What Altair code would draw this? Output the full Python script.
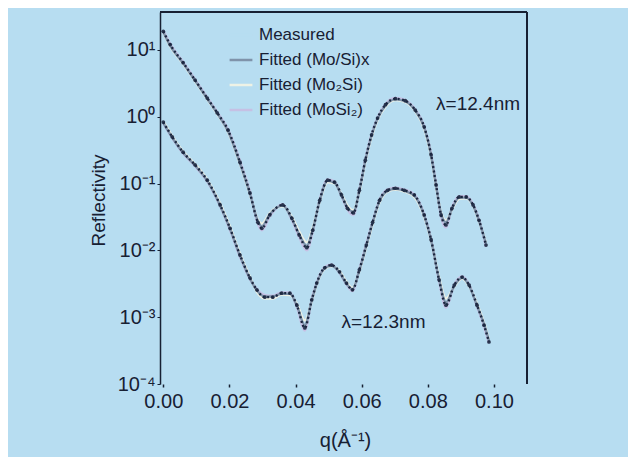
import altair as alt
import pandas as pd

# ---- data (log10 of reflectivity) ----
q_upper = [0.0, 0.0021, 0.0060, 0.0096, 0.0133, 0.0163, 0.0196, 0.0232, 0.0262, 0.0286,
           0.0298, 0.0322, 0.0361, 0.0389, 0.0411, 0.0434, 0.0452, 0.0473, 0.0497, 0.0518,
           0.0539, 0.0557, 0.0575, 0.0593, 0.0611, 0.0630, 0.0648, 0.0672, 0.0702, 0.0732,
           0.0762, 0.0789, 0.0810, 0.0825, 0.0840, 0.0855, 0.0873, 0.0895, 0.0916, 0.0937,
           0.0955, 0.0976]
meas_upper = [1.28, 1.08, 0.81, 0.55, 0.28, 0.06, -0.20, -0.68, -1.14, -1.58,
              -1.67, -1.47, -1.32, -1.52, -1.77, -1.96, -1.70, -1.25, -0.95, -0.98,
              -1.17, -1.37, -1.44, -1.10, -0.65, -0.27, -0.02, 0.18, 0.27, 0.24,
              0.10, -0.15, -0.57, -1.02, -1.47, -1.62, -1.37, -1.20, -1.20, -1.32,
              -1.55, -1.92]
fit_a_upper = [1.27, 1.06, 0.80, 0.54, 0.27, 0.05, -0.22, -0.70, -1.15, -1.56,
               -1.64, -1.46, -1.33, -1.53, -1.76, -1.93, -1.69, -1.26, -0.96, -0.99,
               -1.18, -1.36, -1.42, -1.11, -0.66, -0.28, -0.03, 0.17, 0.26, 0.23,
               0.09, -0.16, -0.58, -1.03, -1.45, -1.58, -1.38, -1.21, -1.21, -1.33,
               -1.56, -1.90]
fit_b_upper = [1.26, 1.05, 0.79, 0.53, 0.26, 0.04, -0.23, -0.71, -1.16, -1.54,
               -1.60, -1.44, -1.34, -1.50, -1.72, -1.88, -1.66, -1.27, -0.98, -1.00,
               -1.16, -1.33, -1.40, -1.12, -0.68, -0.30, -0.05, 0.15, 0.25, 0.22,
               0.08, -0.18, -0.60, -1.05, -1.43, -1.55, -1.39, -1.23, -1.22, -1.34,
               -1.57, -1.88]
fit_c_upper = [1.29, 1.09, 0.82, 0.56, 0.29, 0.07, -0.19, -0.66, -1.12, -1.60,
               -1.70, -1.49, -1.31, -1.55, -1.80, -2.00, -1.72, -1.24, -0.94, -0.97,
               -1.19, -1.39, -1.47, -1.09, -0.64, -0.26, -0.01, 0.19, 0.28, 0.25,
               0.11, -0.14, -0.55, -1.00, -1.50, -1.66, -1.36, -1.19, -1.19, -1.31,
               -1.54, -1.95]

q_lower = [0.0, 0.0027, 0.0060, 0.0096, 0.0133, 0.0172, 0.0202, 0.0232, 0.0262, 0.0283,
           0.0307, 0.0331, 0.0358, 0.0383, 0.0404, 0.0428, 0.0449, 0.0464, 0.0488, 0.0509,
           0.0533, 0.0554, 0.0572, 0.0593, 0.0614, 0.0633, 0.0654, 0.0678, 0.0702, 0.0729,
           0.0759, 0.0789, 0.0810, 0.0834, 0.0855, 0.0880, 0.0904, 0.0925, 0.0949, 0.0970,
           0.0985]
meas_lower = [-0.08, -0.30, -0.53, -0.72, -0.95, -1.32, -1.67, -2.07, -2.41, -2.59,
              -2.70, -2.70, -2.64, -2.64, -2.82, -3.16, -2.74, -2.49, -2.26, -2.22,
              -2.32, -2.49, -2.59, -2.29, -1.92, -1.58, -1.25, -1.10, -1.07, -1.10,
              -1.17, -1.47, -1.84, -2.44, -2.82, -2.52, -2.40, -2.52, -2.82, -3.12,
              -3.37]
fit_a_lower = [-0.09, -0.31, -0.54, -0.73, -0.96, -1.33, -1.68, -2.08, -2.42, -2.60,
               -2.69, -2.69, -2.65, -2.65, -2.83, -3.12, -2.75, -2.50, -2.27, -2.23,
               -2.33, -2.50, -2.58, -2.30, -1.93, -1.59, -1.26, -1.11, -1.08, -1.11,
               -1.18, -1.48, -1.85, -2.43, -2.78, -2.53, -2.41, -2.53, -2.83, -3.10,
               -3.35]
fit_b_lower = [-0.07, -0.29, -0.52, -0.71, -0.94, -1.30, -1.65, -2.05, -2.40, -2.62,
               -2.72, -2.72, -2.66, -2.67, -2.80, -3.05, -2.76, -2.51, -2.28, -2.24,
               -2.31, -2.47, -2.56, -2.31, -1.95, -1.61, -1.28, -1.12, -1.09, -1.12,
               -1.20, -1.50, -1.86, -2.40, -2.72, -2.54, -2.42, -2.54, -2.80, -3.08,
               -3.33]
fit_c_lower = [-0.10, -0.32, -0.55, -0.74, -0.97, -1.34, -1.70, -2.10, -2.43, -2.58,
               -2.67, -2.68, -2.63, -2.63, -2.85, -3.20, -2.73, -2.48, -2.25, -2.21,
               -2.34, -2.51, -2.61, -2.28, -1.90, -1.57, -1.24, -1.09, -1.06, -1.09,
               -1.16, -1.46, -1.83, -2.46, -2.86, -2.51, -2.39, -2.51, -2.84, -3.14,
               -3.39]

series_names = ["Measured", "Fitted (Mo/Si)x", "Fitted (Mo\u2082Si)", "Fitted (MoSi\u2082)"]
series_colors = ["#b7ddf1", "#7f93aa", "#eef2e6", "#c6c0e4"]

y_tick_values = [1e1, 1e0, 1e-1, 1e-2, 1e-3, 1e-4]
y_tick_labels = ["10\u00b9", "10\u2070", "10\u207b\u00b9", "10\u207b\u00b2", "10\u207b\u00b3", "10\u207b\u2074"]
x_tick_values = [0.00, 0.01, 0.02, 0.03, 0.04, 0.05, 0.06, 0.07, 0.08, 0.09, 0.10]

ann_text = ["\u03bb=12.4nm", "\u03bb=12.3nm"]
ann_q = [0.0825, 0.0539]
ann_log = [0.19, -3.07]

# ---- tables ----
meas_rows = []
for q, e in zip(q_upper, meas_upper):
    meas_rows.append({"q": q, "R": 10 ** e, "curve": "12.4"})
for q, e in zip(q_lower, meas_lower):
    meas_rows.append({"q": q, "R": 10 ** e, "curve": "12.3"})
meas_df = pd.DataFrame(meas_rows)

fit_rows = []
for name, up, lo in [(series_names[3], fit_c_upper, fit_c_lower),
                     (series_names[2], fit_b_upper, fit_b_lower),
                     (series_names[1], fit_a_upper, fit_a_lower)]:
    for q, e in zip(q_upper, up):
        fit_rows.append({"q": q, "R": 10 ** e, "curve": "12.4", "series": name})
    for q, e in zip(q_lower, lo):
        fit_rows.append({"q": q, "R": 10 ** e, "curve": "12.3", "series": name})
fit_df = pd.DataFrame(fit_rows)

ann_df = pd.DataFrame({"t": ann_text, "q": ann_q, "R": [10 ** e for e in ann_log]})

W, H = 367, 372
FONT = "Liberation Sans"
INK = "#172033"

x_scale = alt.Scale(domain=[-0.001, 0.11], nice=False, zero=False)
y_scale = alt.Scale(type="log", domain=[1e-4, 37], nice=False)

lbl_arr = "[" + ",".join("'" + s + "'" for s in y_tick_labels[::-1]) + "]"
y_label_expr = lbl_arr + "[round(log(datum.value)/LN10)+4]"
x_label_expr = "round(datum.value*100) % 2 == 0 ? format(datum.value, '.2f') : ''"

x_axis = alt.Axis(values=x_tick_values, labelExpr=x_label_expr, title="q(\u00c5\u207b\u00b9)",
                  domain=False, tickSize=3, tickColor=INK, tickWidth=1.5, grid=False,
                  labelFont=FONT, labelFontSize=20, labelColor=INK, labelPadding=4,
                  titleFont=FONT, titleFontSize=20, titleFontWeight="normal", titleColor=INK,
                  titleX=185, titleY=56, titleAlign="center", titleBaseline="middle")
y_axis = alt.Axis(values=y_tick_values, labelExpr=y_label_expr, title="Reflectivity",
                  domain=True, domainColor=INK, domainWidth=1.5, tickSize=3, tickColor=INK,
                  grid=False, labelFont=FONT, labelFontSize=20, labelColor=INK, labelPadding=2,
                  titleFont=FONT, titleFontSize=19, titleFontWeight="normal", titleColor=INK,
                  titleAngle=270, titleX=-62, titleY=188, titleAlign="center",
                  titleBaseline="middle")

fits = alt.Chart(fit_df).mark_line(strokeWidth=2.4, interpolate="monotone").encode(
    x=alt.X("q:Q", scale=x_scale, axis=x_axis),
    y=alt.Y("R:Q", scale=y_scale, axis=y_axis),
    color=alt.Color("series:N",
                    scale=alt.Scale(domain=series_names, range=series_colors),
                    legend=alt.Legend(title=None, orient="none", legendX=68, legendY=10,
                                      symbolType="stroke", symbolSize=520,
                                      symbolStrokeWidth=2.5, labelFont=FONT,
                                      labelFontSize=17, labelColor=INK, labelOffset=5,
                                      rowPadding=4, padding=0)),
    detail="curve:N",
    order=alt.Order("q:Q"),
)

meas_line = alt.Chart(meas_df).mark_line(
    color="#1b2740", strokeWidth=2.4, strokeDash=[2, 2.5], interpolate="monotone"
).encode(x="q:Q", y="R:Q", detail="curve:N")

meas_pts = alt.Chart(meas_df).mark_circle(color="#1b2740", size=14, opacity=0.9).encode(
    x="q:Q", y="R:Q")

ann = alt.Chart(ann_df).mark_text(align="left", baseline="middle", font=FONT,
                                  fontSize=19, color=INK).encode(
    x="q:Q", y="R:Q", text="t:N")

frame_df = pd.DataFrame({"k": [0]})
top_rule = alt.Chart(frame_df).mark_rule(color=INK, strokeWidth=2).encode(
    x=alt.value(0), x2=alt.value(W), y=alt.value(0))
right_rule = alt.Chart(frame_df).mark_rule(color=INK, strokeWidth=2).encode(
    x=alt.value(W), y=alt.value(0), y2=alt.value(H))

chart = alt.layer(fits, meas_line, meas_pts, ann, top_rule, right_rule).properties(
    width=W, height=H,
    autosize=alt.AutoSizeParams(type="none"),
    padding={"left": 152, "top": 4, "right": 101, "bottom": 73},
    background="#b7ddf1",
).configure_view(strokeWidth=0)

chart.save("out.html", embed_options={"renderer": "svg", "actions": False})
